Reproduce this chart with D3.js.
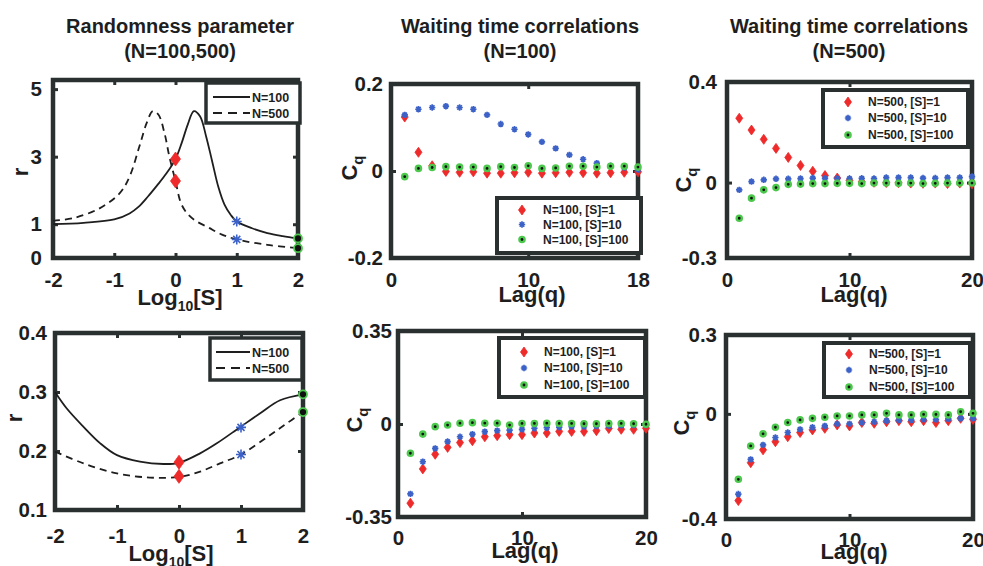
<!DOCTYPE html>
<html><head><meta charset="utf-8">
<script src="https://cdn.jsdelivr.net/npm/d3@7"></script>
<style>body{margin:0;background:#fff}svg{display:block}</style>
</head><body>
<svg id="c" width="983" height="566"></svg>
<script>
// ---------------- DATA ----------------
// Randomness parameter vs log10[S] (top row)
const rTopN100X = [-2, -1.5, -1.0, -0.75, -0.6, -0.45, -0.3, -0.15, 0, 0.1, 0.2, 0.3, 0.4, 0.5, 0.6, 0.7, 0.8, 0.9, 1.0, 1.25, 1.5, 1.75, 2.0];
const rTopN100Y = [1.0, 1.04, 1.14, 1.32, 1.52, 1.82, 2.15, 2.5, 2.93, 3.4, 3.95, 4.35, 4.2, 3.6, 2.85, 2.1, 1.58, 1.28, 1.08, 0.88, 0.74, 0.65, 0.58];
const rTopN500X = [-2, -1.67, -1.24, -0.91, -0.75, -0.59, -0.47, -0.37, -0.28, -0.18, -0.1, 0, 0.09, 0.2, 0.33, 0.54, 0.75, 1.0, 1.5, 2.0];
const rTopN500Y = [1.1, 1.18, 1.47, 1.92, 2.41, 3.3, 4.0, 4.35, 4.25, 3.7, 3.0, 2.28, 1.62, 1.3, 1.1, 0.9, 0.7, 0.55, 0.39, 0.29];
// Randomness parameter (bottom row)
const rBotN100X = [-2, -1.81, -1.54, -1.27, -1.0, -0.63, -0.25, 0, 0.34, 0.61, 0.98, 1.31, 1.63, 2.0];
const rBotN100Y = [0.300, 0.272, 0.241, 0.213, 0.193, 0.182, 0.178, 0.180, 0.196, 0.213, 0.240, 0.264, 0.286, 0.296];
const rBotN500X = [-2, -1.54, -1.0, -0.47, 0, 0.34, 0.66, 1.0, 1.43, 1.7, 2.0];
const rBotN500Y = [0.199, 0.179, 0.162, 0.155, 0.156, 0.165, 0.179, 0.194, 0.224, 0.244, 0.266];
// Marked substrate concentrations (log10[S]) and their r values
const markLogS = [0, 1, 2];
const markTopN100 = [2.93, 1.08, 0.58];
const markTopN500 = [2.28, 0.55, 0.29];
const markBotN100 = [0.181, 0.240, 0.296];
const markBotN500 = [0.157, 0.194, 0.266];

// Waiting time correlations C_q, lags 1..
const lags18 = d3.range(1, 19);
const lags20 = d3.range(1, 21);
const cTopN100S1   = [0.124, 0.043, 0.012, -0.001, -0.003, -0.002, -0.005, -0.005, -0.004, -0.003, -0.005, -0.004, -0.003, -0.004, -0.005, -0.004, -0.003, -0.002];
const cTopN100S10  = [0.129, 0.142, 0.146, 0.149, 0.146, 0.142, 0.129, 0.108, 0.096, 0.084, 0.067, 0.052, 0.037, 0.027, 0.018, 0.012, 0.008, 0.003];
const cTopN100S100 = [-0.013, 0.006, 0.008, 0.010, 0.009, 0.009, 0.006, 0.010, 0.008, 0.012, 0.006, 0.007, 0.011, 0.011, 0.009, 0.011, 0.011, 0.009];
const cTopN500S1   = [0.256, 0.209, 0.172, 0.136, 0.100, 0.068, 0.045, 0.028, 0.018, 0.008, 0.003, 0.001, 0.000, -0.001, -0.002, -0.003, -0.002, -0.004, -0.002, -0.005];
const cTopN500S10  = [-0.029, 0.004, 0.011, 0.015, 0.015, 0.016, 0.018, 0.017, 0.017, 0.016, 0.017, 0.016, 0.020, 0.020, 0.020, 0.018, 0.018, 0.020, 0.020, 0.024];
const cTopN500S100 = [-0.142, -0.062, -0.029, -0.020, -0.007, -0.006, -0.004, -0.004, -0.003, -0.003, -0.004, -0.002, -0.002, -0.003, -0.002, -0.004, -0.003, -0.002, -0.002, -0.002];
const cBotN100S1   = [-0.298, -0.169, -0.114, -0.088, -0.070, -0.063, -0.048, -0.044, -0.040, -0.040, -0.034, -0.034, -0.028, -0.028, -0.028, -0.025, -0.017, -0.020, -0.020, -0.016];
const cBotN100S10  = [-0.263, -0.142, -0.092, -0.066, -0.048, -0.038, -0.029, -0.025, -0.023, -0.020, -0.016, -0.014, -0.012, -0.010, -0.010, -0.008, -0.007, -0.006, -0.005, -0.004];
const cBotN100S100 = [-0.110, -0.038, -0.010, -0.004, 0.003, 0.005, 0.003, 0.003, -0.004, 0.002, 0.002, 0.003, 0.002, 0.002, 0.001, 0.001, 0.002, 0.002, 0.001, -0.001];
const cBotN500S1   = [-0.330, -0.186, -0.137, -0.106, -0.087, -0.071, -0.061, -0.055, -0.042, -0.046, -0.033, -0.036, -0.030, -0.026, -0.030, -0.026, -0.033, -0.026, -0.017, -0.021];
const cBotN500S10  = [-0.305, -0.173, -0.118, -0.090, -0.071, -0.059, -0.051, -0.046, -0.038, -0.038, -0.033, -0.030, -0.026, -0.024, -0.024, -0.022, -0.022, -0.019, -0.017, -0.017];
const cBotN500S100 = [-0.249, -0.122, -0.076, -0.051, -0.033, -0.023, -0.017, -0.013, -0.008, -0.008, -0.004, -0.004, 0.002, -0.004, -0.004, -0.002, -0.002, -0.004, 0.008, 0.002];

// Tick values
const ticksLogS = [-2, -1, 0, 1, 2];
const ticksRTop = [0, 1, 3, 5];
const ticksRBot = [0.1, 0.2, 0.3, 0.4];
const ticksLag18 = [0, 10, 18];
const ticksLag20 = [0, 10, 20];
const ticksCTopN100 = [-0.2, 0, 0.2];
const ticksCTopN500 = [-0.3, 0, 0.4];
const ticksCBotN100 = [-0.35, 0, 0.35];
const ticksCBotN500 = [-0.4, 0, 0.3];

// Titles / legend labels
const titles = [["Randomness parameter", "(N=100,500)"], ["Waiting time correlations", "(N=100)"], ["Waiting time correlations", "(N=500)"]];
const curveLegend = ["N=100", "N=500"];
const legN100 = ["N=100, [S]=1", "N=100, [S]=10", "N=100, [S]=100"];
const legN500 = ["N=500, [S]=1", "N=500, [S]=10", "N=500, [S]=100"];

// ---------------- STYLE / LAYOUT ----------------
const DARK = '#2a3030', RED = '#ee2a2a', BLUE = '#3c62c8', GREEN = '#4cc94c', INK = '#1e1e1e';
const FONT = '"Liberation Sans", Arial, Helvetica, sans-serif';
const svg = d3.select('#c');

const panels = [
  {x0:53, x1:298, y0:80, y1:258, xd:[-2,2], yd:[0,5.27], xt:ticksLogS, yt:ticksRTop, xpad:14, ypad:11, kind:'r',
   n100:[rTopN100X, rTopN100Y], n500:[rTopN500X, rTopN500Y], mk:[markTopN100, markTopN500],
   xl:{x:180, y:305, t:'log'}, yl:{x:28, y:172, t:'r'}, leg:{x:206, y:83, w:94, h:40, rows:[97,113], lx:[213,250], tx:252}},
  {x0:391, x1:638, y0:84, y1:258, xd:[0,18], yd:[-0.2,0.2], xt:ticksLag18, yt:ticksCTopN100, xpad:14, ypad:8, kind:'c',
   lags:lags18, ser:[cTopN100S1, cTopN100S10, cTopN100S100], names:legN100,
   xl:{x:532, y:302, t:'lag'}, yl:{x:357, y:168, t:'cq'}, leg:{x:497, y:198, w:144, h:55, rows:[210,224.5,239.5], mx:522, tx:543}},
  {x0:727, x1:972, y0:82, y1:258, xd:[0,20], yd:[-0.3,0.4], xt:ticksLag20, yt:ticksCTopN500, xpad:14, ypad:10, kind:'c',
   lags:lags20, ser:[cTopN500S1, cTopN500S10, cTopN500S100], names:legN500,
   xl:{x:854, y:302, t:'lag'}, yl:{x:691, y:180, t:'cq'}, leg:{x:823, y:90, w:145, h:57, rows:[102,118,135], mx:848, tx:868}},
  {x0:55, x1:303, y0:333, y1:510, xd:[-2,2], yd:[0.1,0.4], xt:ticksLogS, yt:ticksRBot, xpad:18, ypad:8, kind:'r',
   n100:[rBotN100X, rBotN100Y], n500:[rBotN500X, rBotN500Y], mk:[markBotN100, markBotN500],
   xl:{x:171, y:561, t:'log'}, yl:{x:22, y:418, t:'r'}, leg:{x:210, y:338, w:92, h:42, rows:[352,368], lx:[216,250], tx:252}},
  {x0:398, x1:646, y0:331, y1:517, xd:[0,20], yd:[-0.35,0.35], xt:ticksLag20, yt:ticksCBotN100, xpad:13, ypad:6, kind:'c',
   lags:lags20, ser:[cBotN100S1, cBotN100S10, cBotN100S100], names:legN100,
   xl:{x:525, y:558, t:'lag'}, yl:{x:362, y:420, t:'cq'}, leg:{x:499, y:338, w:146, h:59, rows:[352,368,385], mx:524, tx:544}},
  {x0:726, x1:973, y0:335, y1:519, xd:[0,20], yd:[-0.4,0.3], xt:ticksLag20, yt:ticksCBotN500, xpad:13, ypad:9, kind:'c',
   lags:lags20, ser:[cBotN500S1, cBotN500S10, cBotN500S100], names:legN500,
   xl:{x:854, y:559, t:'lag'}, yl:{x:689, y:423, t:'cq'}, leg:{x:824, y:343, w:146, h:54, rows:[354,370,387], mx:849, tx:869}}
];

// ---------------- MARKERS ----------------
function diamond(g, cx, cy, w, h) {
  g.append('path').attr('d', `M${cx},${cy-h/2}L${cx+w/2},${cy}L${cx},${cy+h/2}L${cx-w/2},${cy}Z`).attr('fill', RED).attr('stroke', RED).attr('stroke-width', 0.8);
}
function star(g, cx, cy, s, sw) {
  const d = s * 0.7071;
  g.append('path').attr('d', `M${cx-s},${cy}L${cx+s},${cy}M${cx},${cy-s}L${cx},${cy+s}M${cx-d},${cy-d}L${cx+d},${cy+d}M${cx-d},${cy+d}L${cx+d},${cy-d}`)
    .attr('stroke', BLUE).attr('stroke-width', sw).attr('fill', 'none');
}
function ring(g, cx, cy, r, sw) {
  g.append('circle').attr('cx', cx).attr('cy', cy).attr('r', r).attr('fill', '#111').attr('stroke', GREEN).attr('stroke-width', sw);
}
function mark(g, i, cx, cy, big) {
  if (i === 0) big ? diamond(g, cx, cy, 10, 14) : diamond(g, cx, cy, 7, 10);
  else if (i === 1) big ? star(g, cx, cy, 5, 1.6) : star(g, cx, cy, 3.2, 1.7);
  else big ? ring(g, cx, cy, 4, 1.8) : ring(g, cx, cy, 2.6, 2.4);
}

// ---------------- TITLES ----------------
const titleX = [180, 520, 849];
titles.forEach((t, i) => {
  svg.append('text').attr('x', titleX[i]).attr('y', 33).attr('text-anchor', 'middle').attr('font-family', FONT).attr('font-weight', 'bold').attr('font-size', 20).attr('fill', INK).text(t[0]);
  svg.append('text').attr('x', titleX[i]).attr('y', 58).attr('text-anchor', 'middle').attr('font-family', FONT).attr('font-weight', 'bold').attr('font-size', 20).attr('fill', INK).text(t[1]);
});

// ---------------- PANELS ----------------
const fmt = d => String(d);
panels.forEach(p => {
  const g = svg.append('g');
  const x = d3.scaleLinear().domain(p.xd).range([p.x0, p.x1]);
  const y = d3.scaleLinear().domain(p.yd).range([p.y1, p.y0]);

  // axes: labels + inward ticks on all four sides
  const styleAxis = (sel) => {
    sel.select('.domain').remove();
    sel.selectAll('line').attr('stroke', DARK).attr('stroke-width', 3);
    sel.selectAll('text').attr('font-family', FONT).attr('font-weight', 'bold').attr('font-size', 20.5).attr('fill', INK);
  };
  g.append('g').attr('transform', `translate(0,${p.y1})`)
    .call(d3.axisBottom(x).tickValues(p.xt).tickFormat(fmt).tickSizeInner(-5).tickSizeOuter(0).tickPadding(p.xpad)).call(styleAxis);
  g.append('g').attr('transform', `translate(0,${p.y0})`)
    .call(d3.axisTop(x).tickValues(p.xt).tickFormat('').tickSizeInner(-5).tickSizeOuter(0)).call(styleAxis);
  g.append('g').attr('transform', `translate(${p.x0},0)`)
    .call(d3.axisLeft(y).tickValues(p.yt).tickFormat(fmt).tickSizeInner(-5).tickSizeOuter(0).tickPadding(p.ypad)).call(styleAxis);
  g.append('g').attr('transform', `translate(${p.x1},0)`)
    .call(d3.axisRight(y).tickValues(p.yt).tickFormat('').tickSizeInner(-5).tickSizeOuter(0)).call(styleAxis);

  // frame
  g.append('rect').attr('x', p.x0).attr('y', p.y0).attr('width', p.x1 - p.x0).attr('height', p.y1 - p.y0)
    .attr('fill', 'none').attr('stroke', DARK).attr('stroke-width', 4.5);

  // axis labels
  const lab = g.append('text').attr('x', p.xl.x).attr('y', p.xl.y).attr('text-anchor', 'middle')
    .attr('font-family', FONT).attr('font-weight', 'bold').attr('font-size', 22).attr('fill', INK);
  if (p.xl.t === 'log') {
    lab.append('tspan').text('Log');
    lab.append('tspan').attr('font-size', 14).attr('dy', 6).text('10');
    lab.append('tspan').attr('dy', -6).text('[S]');
  } else lab.text('Lag(q)');
  const yl = g.append('text').attr('transform', `translate(${p.yl.x},${p.yl.y}) rotate(-90)`).attr('text-anchor', 'middle')
    .attr('font-family', FONT).attr('font-weight', 'bold').attr('font-size', 22).attr('fill', INK);
  if (p.yl.t === 'r') yl.text('r');
  else { yl.append('tspan').text('C'); yl.append('tspan').attr('font-size', 15).attr('dy', 6).text('q'); }

  const leg = g.append('g');
  if (p.kind === 'r') {
    const line = d3.line().x(d => x(d[0])).y(d => y(d[1])).curve(d3.curveCatmullRom.alpha(0.5));
    g.append('path').attr('d', line(d3.zip(p.n100[0], p.n100[1]))).attr('fill', 'none').attr('stroke', INK).attr('stroke-width', 1.8);
    g.append('path').attr('d', line(d3.zip(p.n500[0], p.n500[1]))).attr('fill', 'none').attr('stroke', INK).attr('stroke-width', 1.8).attr('stroke-dasharray', '7,5');
    markLogS.forEach((s, i) => {
      mark(g, i, x(s), y(p.mk[0][i]), true);
      mark(g, i, x(s), y(p.mk[1][i]), true);
    });
    leg.append('rect').attr('x', p.leg.x).attr('y', p.leg.y).attr('width', p.leg.w).attr('height', p.leg.h).attr('fill', '#fff').attr('stroke', DARK).attr('stroke-width', 3.5);
    curveLegend.forEach((nm, i) => {
      leg.append('line').attr('x1', p.leg.lx[0]).attr('x2', p.leg.lx[1]).attr('y1', p.leg.rows[i]).attr('y2', p.leg.rows[i])
        .attr('stroke', INK).attr('stroke-width', 2).attr('stroke-dasharray', i ? '9,6' : null);
      leg.append('text').attr('x', p.leg.tx).attr('y', p.leg.rows[i] + 4.5).attr('font-family', FONT).attr('font-weight', 'bold').attr('font-size', 12.5).attr('fill', INK).text(nm);
    });
  } else {
    p.ser.forEach((vals, i) => {
      vals.forEach((v, k) => mark(g, i, x(p.lags[k]), y(v), false));
    });
    leg.append('rect').attr('x', p.leg.x).attr('y', p.leg.y).attr('width', p.leg.w).attr('height', p.leg.h).attr('fill', '#fff').attr('stroke', DARK).attr('stroke-width', 4);
    p.names.forEach((nm, i) => {
      mark(leg, i, p.leg.mx, p.leg.rows[i], false);
      leg.append('text').attr('x', p.leg.tx).attr('y', p.leg.rows[i] + 4.3).attr('font-family', FONT).attr('font-weight', 'bold').attr('font-size', 12).attr('fill', INK).text(nm);
    });
  }
});
</script>
</body></html>
